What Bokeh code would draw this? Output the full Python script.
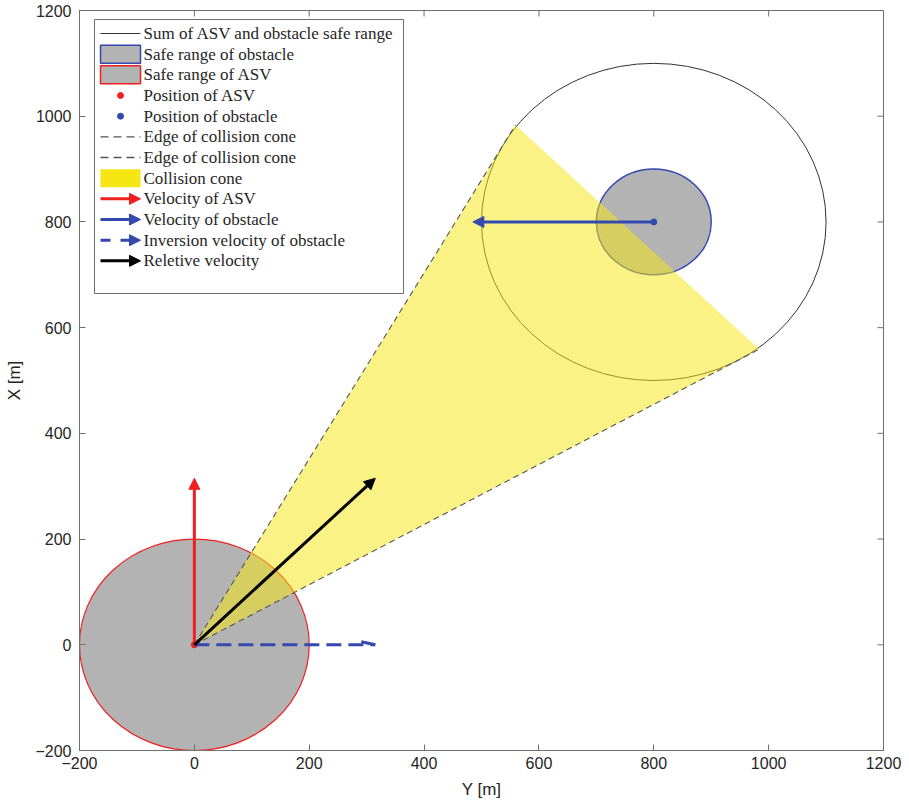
import numpy as np
from bokeh.plotting import figure
from bokeh.models import Range1d, FixedTicker, Arrow, NormalHead
from bokeh.core.properties import value
from bokeh.embed import file_html
from bokeh.resources import INLINE

# ---- scenario: ASV and one obstacle (values in metres, metres per step) ----
asv_pos = [0.0, 0.0]
obs_pos = [800.0, 800.0]
asv_radius = 200.0
obs_radius = 100.0
asv_vel = [0.0, 315.0]
obs_vel = [-315.0, 0.0]

tick_values = [-200, 0, 200, 400, 600, 800, 1000, 1200]
legend_labels = [
    "Sum of ASV and obstacle safe range",
    "Safe range of obstacle",
    "Safe range of ASV",
    "Position of ASV",
    "Position of obstacle",
    "Edge of collision cone",
    "Edge of collision cone",
    "Collision cone",
    "Velocity of ASV",
    "Velocity of obstacle",
    "Inversion velocity of obstacle",
    "Reletive velocity",
]

# ---- derived geometry ----
sum_radius = asv_radius + obs_radius
inv_vel = [-obs_vel[0], -obs_vel[1]]
rel_vel = [asv_vel[0] - obs_vel[0], asv_vel[1] - obs_vel[1]]

dx, dy = obs_pos[0] - asv_pos[0], obs_pos[1] - asv_pos[1]
dist = np.hypot(dx, dy)
base_ang = np.arctan2(dy, dx)
half_ang = np.arcsin(sum_radius / dist)
edge_a = (asv_pos[0] + dist * np.cos(base_ang + half_ang), asv_pos[1] + dist * np.sin(base_ang + half_ang))
edge_b = (asv_pos[0] + dist * np.cos(base_ang - half_ang), asv_pos[1] + dist * np.sin(base_ang - half_ang))

# ---- styling ----
GRAY = "#b3b3b3"
RED = "#f02020"
BLUE = "#3448b0"
YELLOW = "#f5e614"
EDGE = "#555555"
AXIS = "#6e6e6e"
TXT = "#262626"

X_MIN, X_MAX = -200, 1200
Y_MIN, Y_MAX = -200, 1200
FRAME_W, FRAME_H = 804, 740
SX = (X_MAX - X_MIN) / FRAME_W   # data units per pixel
SY = (Y_MAX - Y_MIN) / FRAME_H
TICK_LEN = 6


def fx(px):
    """frame pixel (from left) -> data x"""
    return X_MIN + px * SX


def fy(py):
    """frame pixel (from top) -> data y"""
    return Y_MAX - py * SY


p = figure(
    frame_width=FRAME_W, frame_height=FRAME_H,
    x_range=Range1d(X_MIN, X_MAX), y_range=Range1d(Y_MIN, Y_MAX),
    output_backend="svg", toolbar_location=None,
    min_border_left=79, min_border_right=26, min_border_top=10, min_border_bottom=59,
    x_axis_label="Y [m]", y_axis_label="X [m]",
)
p.grid.visible = False
p.outline_line_color = AXIS
p.background_fill_color = "white"
p.border_fill_color = "white"

for ax in (p.xaxis[0], p.yaxis[0]):
    ax.ticker = FixedTicker(ticks=tick_values)
    ax.axis_line_color = AXIS
    ax.major_tick_line_color = AXIS
    ax.major_tick_in = TICK_LEN
    ax.major_tick_out = 0
    ax.minor_tick_line_color = None
    ax.major_label_text_font = "Liberation Sans"
    ax.major_label_text_font_size = "16px"
    ax.major_label_text_color = TXT
    ax.axis_label_text_font = "Liberation Sans"
    ax.axis_label_text_font_size = "17px"
    ax.axis_label_text_font_style = "normal"
    ax.axis_label_text_color = TXT
p.xaxis[0].major_label_standoff = 6
p.xaxis[0].axis_label_standoff = 8
p.yaxis[0].major_label_standoff = 8
p.yaxis[0].axis_label_standoff = 8

# box-style inward ticks on the top and right edges
p.segment(x0=tick_values, y0=[Y_MAX] * len(tick_values),
          x1=tick_values, y1=[Y_MAX - TICK_LEN * SY] * len(tick_values),
          line_color=AXIS, line_width=1)
p.segment(x0=[X_MAX] * len(tick_values), y0=tick_values,
          x1=[X_MAX - TICK_LEN * SX] * len(tick_values), y1=tick_values,
          line_color=AXIS, line_width=1)

# ---- safe ranges ----
p.ellipse(x=[asv_pos[0]], y=[asv_pos[1]], width=[2 * asv_radius], height=[2 * asv_radius],
          fill_color=GRAY, line_color=RED, line_width=1.2)
p.ellipse(x=[obs_pos[0]], y=[obs_pos[1]], width=[2 * obs_radius], height=[2 * obs_radius],
          fill_color=GRAY, line_color=BLUE, line_width=1.5)
p.ellipse(x=[obs_pos[0]], y=[obs_pos[1]], width=[2 * sum_radius], height=[2 * sum_radius],
          fill_color=None, line_color="#333333", line_width=1)

# ---- collision cone ----
p.patch(x=[asv_pos[0], edge_a[0], edge_b[0]], y=[asv_pos[1], edge_a[1], edge_b[1]],
        fill_color=YELLOW, fill_alpha=0.52, line_color=None)
for e in (edge_a, edge_b):
    p.line(x=[asv_pos[0], e[0]], y=[asv_pos[1], e[1]], line_color=EDGE,
           line_width=1.1, line_dash="6 4")

# ---- positions ----
p.scatter(x=[asv_pos[0]], y=[asv_pos[1]], size=6, color=RED)
p.scatter(x=[obs_pos[0]], y=[obs_pos[1]], size=6, color=BLUE)


# ---- velocity vectors ----
def vec_arrow(x0, y0, x1, y1, color, width=3, dash="solid", head=11):
    p.add_layout(Arrow(
        x_start=x0, y_start=y0, x_end=x1, y_end=y1,
        line_color=color, line_width=width, line_dash=dash,
        end=NormalHead(size=head, fill_color=color, line_color=color, line_width=1),
    ))


vec_arrow(asv_pos[0], asv_pos[1], asv_pos[0] + asv_vel[0], asv_pos[1] + asv_vel[1], RED)
vec_arrow(obs_pos[0], obs_pos[1], obs_pos[0] + obs_vel[0], obs_pos[1] + obs_vel[1], BLUE)
vec_arrow(asv_pos[0], asv_pos[1], asv_pos[0] + rel_vel[0], asv_pos[1] + rel_vel[1], "black")

# inversion velocity: dashed shaft with a single visible barb
tip = (asv_pos[0] + inv_vel[0], asv_pos[1] + inv_vel[1])
p.line(x=[asv_pos[0], tip[0]], y=[asv_pos[1], tip[1]], line_color=BLUE,
       line_width=3, line_dash="15 7")
ux, uy = inv_vel[0] / SX, inv_vel[1] / SY
ln = np.hypot(ux, uy)
ux, uy = ux / ln, uy / ln
p.line(x=[tip[0] - 14 * ux * SX - 3 * uy * SX, tip[0]],
       y=[tip[1] - 14 * uy * SY + 3 * ux * SY, tip[1]],
       line_color=BLUE, line_width=3)

# ---- legend (laid out in frame pixels) ----
L_LEFT, L_TOP, L_RIGHT, L_BOTTOM = 15, 9, 324, 283
ROW0, ROW_H = 23, 20.67
S0, S1, TX = 21, 61, 64

p.quad(left=[fx(L_LEFT)], right=[fx(L_RIGHT)], top=[fy(L_TOP)], bottom=[fy(L_BOTTOM)],
       fill_color="white", line_color=AXIS, line_width=1)

rows = [fy(ROW0 + i * ROW_H) for i in range(len(legend_labels))]
half_h = 9 * SY

p.line(x=[fx(S0), fx(S1)], y=[rows[0], rows[0]], line_color="#333333", line_width=1)
p.quad(left=[fx(S0)], right=[fx(S1)], top=[rows[1] + half_h], bottom=[rows[1] - half_h],
       fill_color=GRAY, line_color=BLUE, line_width=1.5)
p.quad(left=[fx(S0)], right=[fx(S1)], top=[rows[2] + half_h], bottom=[rows[2] - half_h],
       fill_color=GRAY, line_color=RED, line_width=1.5)
p.scatter(x=[fx((S0 + S1) / 2)], y=[rows[3]], size=6, color=RED)
p.scatter(x=[fx((S0 + S1) / 2)], y=[rows[4]], size=6, color=BLUE)
for r in (rows[5], rows[6]):
    p.line(x=[fx(S0), fx(S1)], y=[r, r], line_color=EDGE, line_width=1.3, line_dash="8 5")
p.quad(left=[fx(S0)], right=[fx(S1)], top=[rows[7] + half_h], bottom=[rows[7] - half_h],
       fill_color=YELLOW, line_color=None)
vec_arrow(fx(S0), rows[8], fx(S1), rows[8], RED)
vec_arrow(fx(S0), rows[9], fx(S1), rows[9], BLUE)
p.line(x=[fx(S0), fx(S1 - 8)], y=[rows[10], rows[10]], line_color=BLUE, line_width=3, line_dash="10 10")
vec_arrow(fx(S1 - 12), rows[10], fx(S1), rows[10], BLUE)
vec_arrow(fx(S0), rows[11], fx(S1), rows[11], "black")

p.text(x=[fx(TX)] * len(legend_labels), y=rows, text=legend_labels,
       text_font=value("Liberation Serif"), text_font_size="17px",
       text_color=TXT, text_baseline="middle", text_align="left")

open("out.html", "w").write(file_html(p, INLINE))
